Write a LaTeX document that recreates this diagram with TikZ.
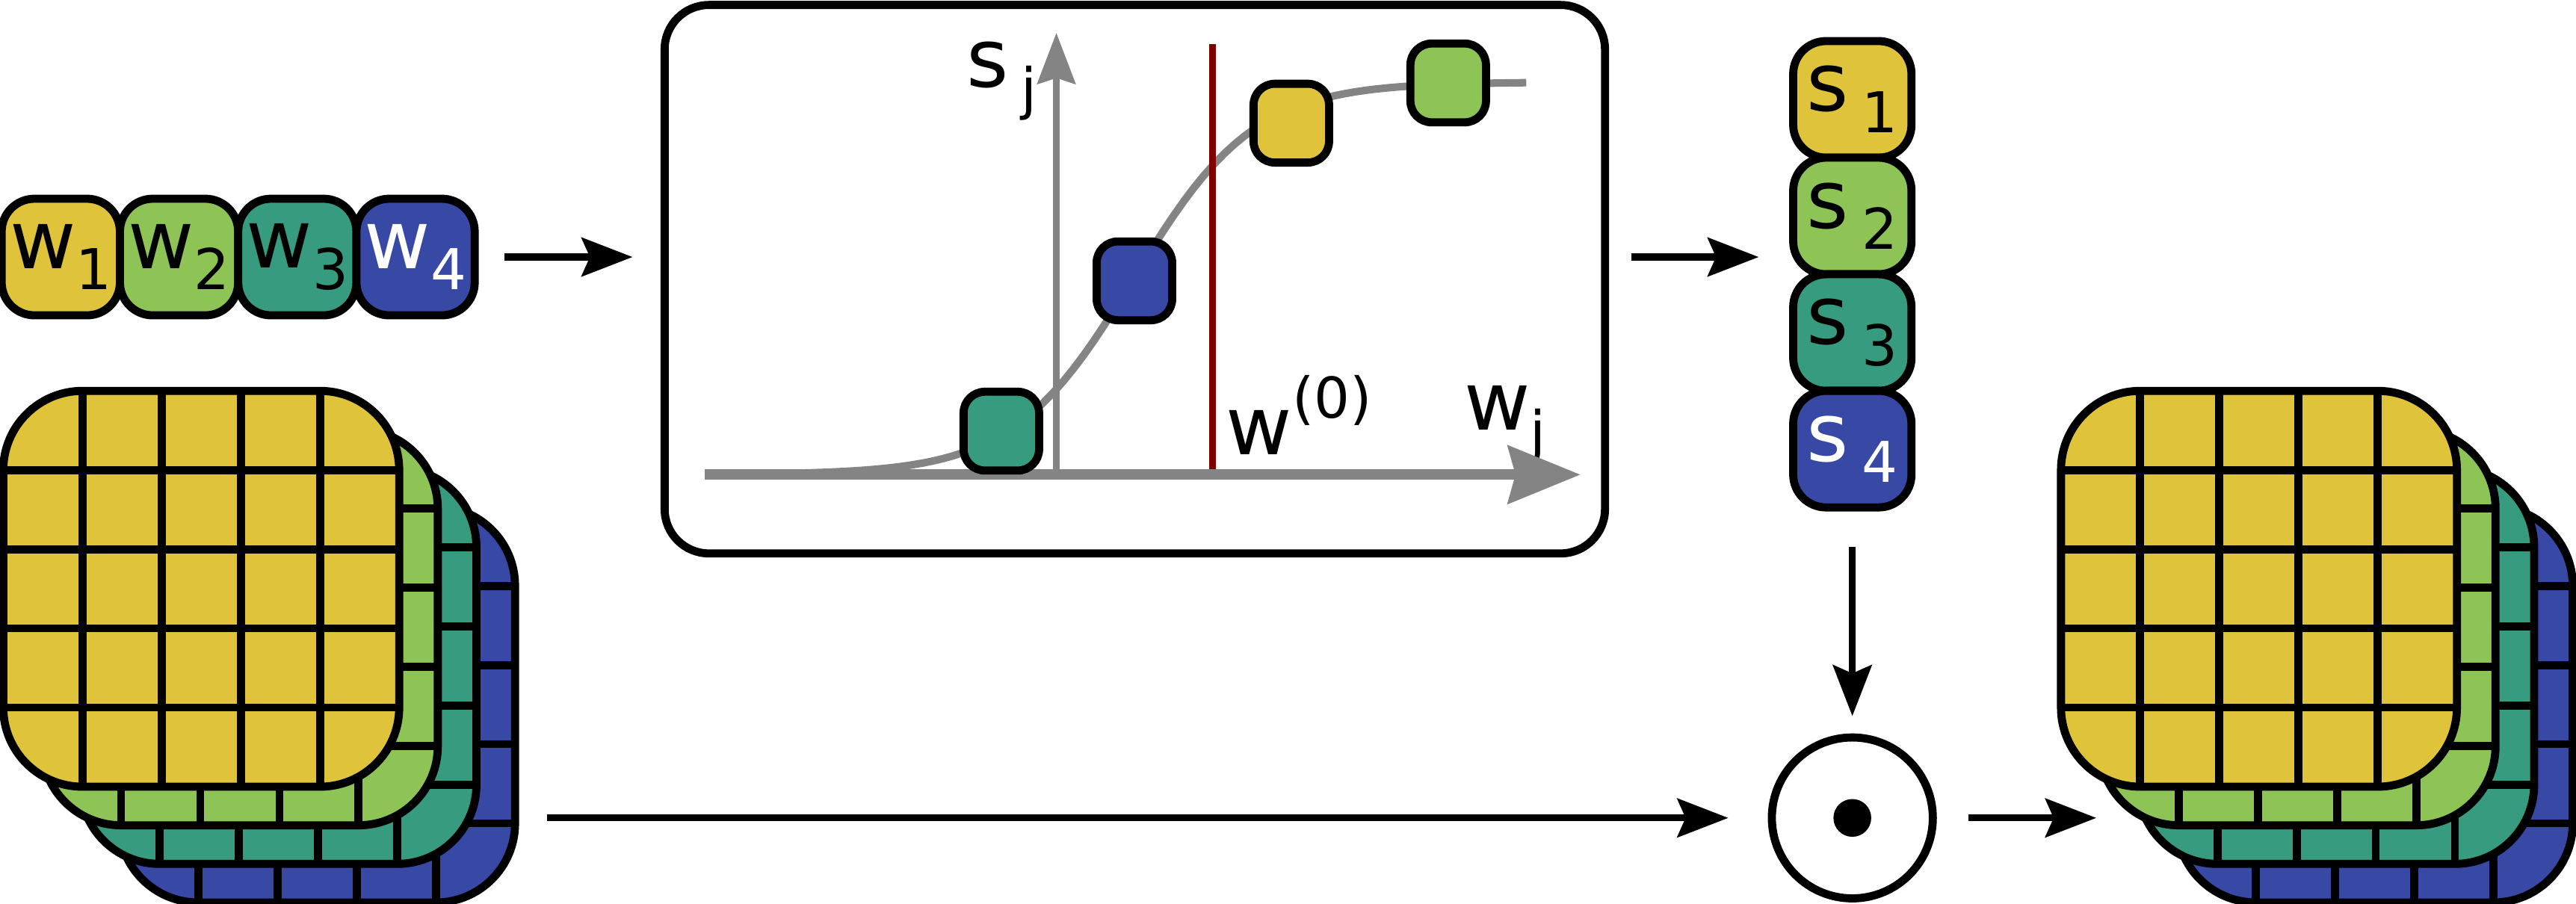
\documentclass[tikz,border=0pt]{standalone}
\usepackage{fontspec}
\setmainfont{DejaVu Sans}
\usetikzlibrary{positioning,arrows.meta}

\definecolor{cyellow}{HTML}{DFC33B}
\definecolor{cgreen}{HTML}{8DC455}
\definecolor{cteal}{HTML}{379B7F}
\definecolor{cblue}{HTML}{3848A5}
\definecolor{axisgray}{HTML}{848484}
\definecolor{wred}{HTML}{800000}

\newcommand{\bigfont}{\fontsize{28pt}{30pt}\selectfont}
\newcommand{\smallfont}{\fontsize{19.5pt}{21pt}\selectfont}
\newcommand{\lowlab}[2]{#1\raisebox{-0.26cm}{\smallfont #2}}
\newcommand{\highlab}[2]{#1\raisebox{0.45cm}{\smallfont #2}}

\newcommand{\fmap}[3]{%
  \begin{scope}[shift={({#1},{#2})}]
    \fill[#3, rounded corners=0.964cm] (0,0) rectangle (241,241);
    \begin{scope}
      \clip[rounded corners=0.964cm] (0,0) rectangle (241,241);
      \foreach \k in {1,...,4} {
        \draw[blk] (48.2*\k,0) -- (48.2*\k,241);
        \draw[blk] (0,48.2*\k) -- (241,48.2*\k);
      }
    \end{scope}
    \draw[blk, rounded corners=0.964cm] (0,0) rectangle (241,241);
  \end{scope}}

\begin{document}
\begin{tikzpicture}[x=0.02cm, y=-0.02cm,
    blk/.style={line width=2.8pt, black},
    wbox/.style={draw, blk, rounded corners=0.4cm, minimum width=1.44cm, minimum height=1.42cm, inner sep=0pt, outer sep=0pt, font=\bigfont},
    dotbox/.style={draw, blk, rounded corners=0.26cm, minimum width=0.92cm, minimum height=0.96cm, inner sep=0pt, outer sep=0pt},
    arr/.style={line width=2.4pt, -{Stealth[length=0.62cm, width=0.47cm, inset=0.1cm]}},
    lbl/.style={inner sep=0pt, anchor=base west, font=\bigfont},
    stack/.style={minimum size=6.23cm, inner sep=0pt, outer sep=0pt}]
    \useasboundingbox (0,0) rectangle (1568,550);

    \node[wbox, fill=cyellow] (w1) at (37,156.5) {\lowlab{w}{1}};
    \node[wbox, fill=cgreen, right=0cm of w1] (w2) {\lowlab{w}{2}};
    \node[wbox, fill=cteal, right=0cm of w2] (w3) {\lowlab{w}{3}};
    \node[wbox, fill=cblue, text=white, right=0cm of w3] (w4) {\lowlab{w}{4}};

    \node[draw, blk, rounded corners=0.54cm, minimum width=11.45cm, minimum height=6.68cm, outer sep=0pt] (plot) at (690.75,170) {};
    \draw[axisgray, line width=2.6pt] plot[domain=445:929, samples=80] (\x,{289-239/(1+exp(-0.0272*(\x-690)))});
    \draw[axisgray, line width=2.4pt, -{Stealth[length=0.62cm, width=0.46cm, inset=0.07cm]}] (643,289) -- (643,20);
    \draw[wred, line width=2.2pt] (738,27) -- (738,289);
    \node[lbl] (sj) at (588,53) {\lowlab{s\hspace{0.15cm}}{j}};
    \node[lbl] (w0) at (746,277) {\highlab{w}{(0)}};
    \node[lbl] (wj) at (891,262) {\lowlab{w}{j}};
    \draw[axisgray, line width=3.6pt, -{Stealth[length=0.88cm, width=0.7cm, inset=0.09cm]}] (429,289) -- (962,289);
    \node[dotbox, fill=cteal] (p3) at (609.5,262.5) {};
    \node[dotbox, fill=cblue] (p4) at (690.5,171) {};
    \node[dotbox, fill=cyellow] (p1) at (786,75) {};
    \node[dotbox, fill=cgreen] (p2) at (881.5,50.5) {};

    \node[wbox, fill=cyellow] (s1) at (1127.5,60.5) {\lowlab{s\hspace{0.16cm}}{1}};
    \node[wbox, fill=cgreen, below=0cm of s1] (s2) {\lowlab{s\hspace{0.16cm}}{2}};
    \node[wbox, fill=cteal, below=0cm of s2] (s3) {\lowlab{s\hspace{0.16cm}}{3}};
    \node[wbox, fill=cblue, text=white, below=0cm of s3] (s4) {\lowlab{s\hspace{0.16cm}}{4}};

    \foreach \c [count=\n] in {cblue,cteal,cgreen,cyellow}
        \fmap{2+(4-\n)*23.5}{238+(4-\n)*23.5}{\c};
    \foreach \c [count=\n] in {cblue,cteal,cgreen,cyellow}
        \fmap{1254.5+(4-\n)*23.5}{238+(4-\n)*23.5}{\c};
    \node[stack] (instack) at (157.75,393.75) {};
    \node[stack] (outstack) at (1410.25,393.75) {};

    \node[draw, blk, circle, minimum size=1.96cm, inner sep=0pt, outer sep=0pt] (dot) at (s4.center |- 0,498) {};
    \fill (dot.center) circle[radius=11.5];

    \draw[arr, shorten <=0.36cm, shorten >=0.39cm] (w4.east) -- (w4.east -| plot.west);
    \draw[arr, shorten <=0.32cm, shorten >=0.42cm] (plot.east |- w4.east) -- (s2.west |- w4.east);
    \draw[arr, shorten <=0.48cm, shorten >=0.26cm] (s4.south) -- (dot.north);
    \draw[arr, shorten <=0.39cm, shorten >=0.53cm] (instack.east |- dot.west) -- (dot.west);
    \draw[arr, shorten <=0.43cm, shorten >=-0.43cm] (dot.east) -- (outstack.west |- dot.east);
\end{tikzpicture}
\end{document}
